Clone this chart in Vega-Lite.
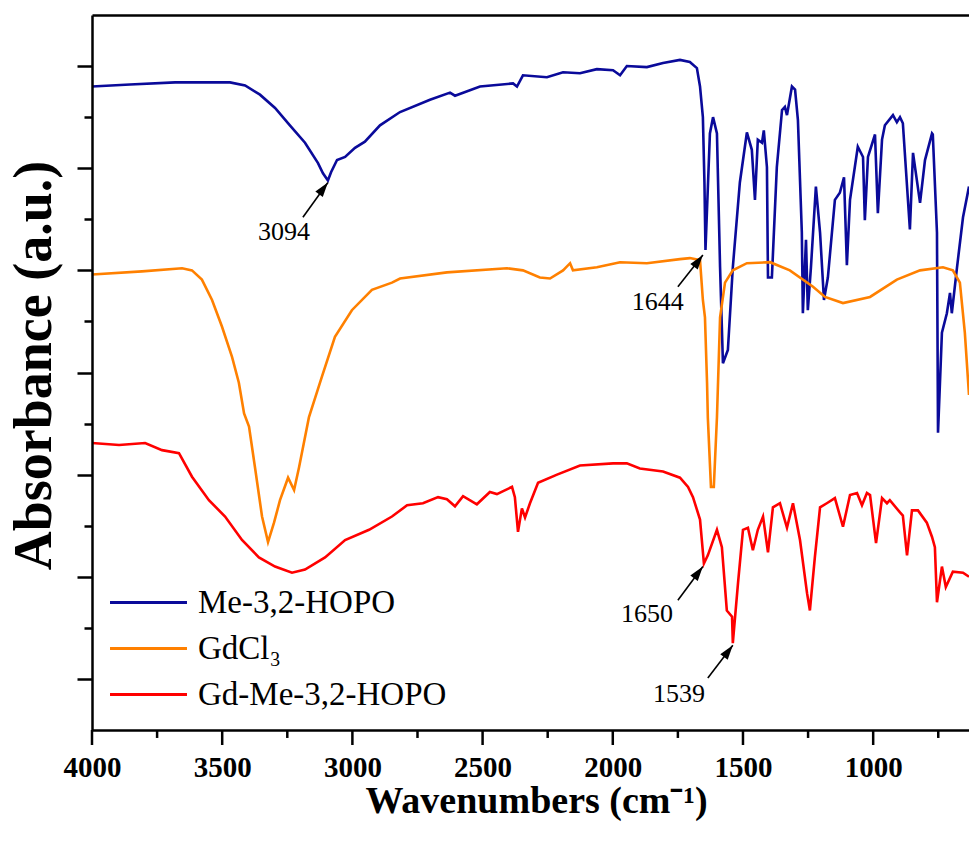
{
  "$schema": "https://vega.github.io/schema/vega-lite/v6.json",
  "width": 877,
  "height": 715,
  "autosize": {"type": "none"},
  "padding": {"left": 92, "top": 15, "right": 0, "bottom": 121},
  "background": "white",
  "config": {"view": {"stroke": null, "fill": null}, "font": "Liberation Serif"},
  "datasets": {
    "spectra": [
      {"s":"Me-3,2-HOPO","wn":4000,"a":6.30},{"s":"Me-3,2-HOPO","wn":3854,"a":6.32},{"s":"Me-3,2-HOPO","wn":3681,"a":6.34},{"s":"Me-3,2-HOPO","wn":3470,"a":6.34},{"s":"Me-3,2-HOPO","wn":3412,"a":6.31},{"s":"Me-3,2-HOPO","wn":3355,"a":6.22},{"s":"Me-3,2-HOPO","wn":3297,"a":6.09},{"s":"Me-3,2-HOPO","wn":3240,"a":5.92},{"s":"Me-3,2-HOPO","wn":3182,"a":5.75},{"s":"Me-3,2-HOPO","wn":3132,"a":5.55},{"s":"Me-3,2-HOPO","wn":3113,"a":5.45},{"s":"Me-3,2-HOPO","wn":3094,"a":5.38},{"s":"Me-3,2-HOPO","wn":3082,"a":5.46},{"s":"Me-3,2-HOPO","wn":3059,"a":5.58},{"s":"Me-3,2-HOPO","wn":3028,"a":5.61},{"s":"Me-3,2-HOPO","wn":2990,"a":5.70},{"s":"Me-3,2-HOPO","wn":2952,"a":5.76},{"s":"Me-3,2-HOPO","wn":2894,"a":5.92},{"s":"Me-3,2-HOPO","wn":2817,"a":6.05},{"s":"Me-3,2-HOPO","wn":2702,"a":6.17},{"s":"Me-3,2-HOPO","wn":2625,"a":6.24},{"s":"Me-3,2-HOPO","wn":2606,"a":6.21},{"s":"Me-3,2-HOPO","wn":2510,"a":6.30},{"s":"Me-3,2-HOPO","wn":2383,"a":6.33},{"s":"Me-3,2-HOPO","wn":2368,"a":6.30},{"s":"Me-3,2-HOPO","wn":2345,"a":6.41},{"s":"Me-3,2-HOPO","wn":2253,"a":6.39},{"s":"Me-3,2-HOPO","wn":2191,"a":6.44},{"s":"Me-3,2-HOPO","wn":2126,"a":6.43},{"s":"Me-3,2-HOPO","wn":2061,"a":6.47},{"s":"Me-3,2-HOPO","wn":1999,"a":6.46},{"s":"Me-3,2-HOPO","wn":1972,"a":6.41},{"s":"Me-3,2-HOPO","wn":1946,"a":6.50},{"s":"Me-3,2-HOPO","wn":1869,"a":6.49},{"s":"Me-3,2-HOPO","wn":1807,"a":6.53},{"s":"Me-3,2-HOPO","wn":1742,"a":6.56},{"s":"Me-3,2-HOPO","wn":1704,"a":6.54},{"s":"Me-3,2-HOPO","wn":1677,"a":6.48},{"s":"Me-3,2-HOPO","wn":1665,"a":6.30},{"s":"Me-3,2-HOPO","wn":1654,"a":6.00},{"s":"Me-3,2-HOPO","wn":1648,"a":5.36},{"s":"Me-3,2-HOPO","wn":1644,"a":4.70},{"s":"Me-3,2-HOPO","wn":1627,"a":5.84},{"s":"Me-3,2-HOPO","wn":1615,"a":6.00},{"s":"Me-3,2-HOPO","wn":1600,"a":5.84},{"s":"Me-3,2-HOPO","wn":1588,"a":4.53},{"s":"Me-3,2-HOPO","wn":1577,"a":3.59},{"s":"Me-3,2-HOPO","wn":1558,"a":3.72},{"s":"Me-3,2-HOPO","wn":1539,"a":4.53},{"s":"Me-3,2-HOPO","wn":1512,"a":5.36},{"s":"Me-3,2-HOPO","wn":1485,"a":5.85},{"s":"Me-3,2-HOPO","wn":1466,"a":5.68},{"s":"Me-3,2-HOPO","wn":1454,"a":5.19},{"s":"Me-3,2-HOPO","wn":1443,"a":5.78},{"s":"Me-3,2-HOPO","wn":1427,"a":5.75},{"s":"Me-3,2-HOPO","wn":1420,"a":5.87},{"s":"Me-3,2-HOPO","wn":1408,"a":5.51},{"s":"Me-3,2-HOPO","wn":1404,"a":4.43},{"s":"Me-3,2-HOPO","wn":1389,"a":4.43},{"s":"Me-3,2-HOPO","wn":1370,"a":5.51},{"s":"Me-3,2-HOPO","wn":1350,"a":6.07},{"s":"Me-3,2-HOPO","wn":1339,"a":6.10},{"s":"Me-3,2-HOPO","wn":1331,"a":6.02},{"s":"Me-3,2-HOPO","wn":1312,"a":6.30},{"s":"Me-3,2-HOPO","wn":1300,"a":6.27},{"s":"Me-3,2-HOPO","wn":1289,"a":5.97},{"s":"Me-3,2-HOPO","wn":1274,"a":4.87},{"s":"Me-3,2-HOPO","wn":1270,"a":4.08},{"s":"Me-3,2-HOPO","wn":1258,"a":4.80},{"s":"Me-3,2-HOPO","wn":1251,"a":4.11},{"s":"Me-3,2-HOPO","wn":1239,"a":4.53},{"s":"Me-3,2-HOPO","wn":1220,"a":5.32},{"s":"Me-3,2-HOPO","wn":1204,"a":4.87},{"s":"Me-3,2-HOPO","wn":1189,"a":4.21},{"s":"Me-3,2-HOPO","wn":1174,"a":4.43},{"s":"Me-3,2-HOPO","wn":1147,"a":5.19},{"s":"Me-3,2-HOPO","wn":1128,"a":5.26},{"s":"Me-3,2-HOPO","wn":1112,"a":5.41},{"s":"Me-3,2-HOPO","wn":1101,"a":4.55},{"s":"Me-3,2-HOPO","wn":1089,"a":5.19},{"s":"Me-3,2-HOPO","wn":1059,"a":5.71},{"s":"Me-3,2-HOPO","wn":1039,"a":5.61},{"s":"Me-3,2-HOPO","wn":1032,"a":4.99},{"s":"Me-3,2-HOPO","wn":1020,"a":5.61},{"s":"Me-3,2-HOPO","wn":993,"a":5.83},{"s":"Me-3,2-HOPO","wn":982,"a":5.06},{"s":"Me-3,2-HOPO","wn":966,"a":5.78},{"s":"Me-3,2-HOPO","wn":955,"a":5.92},{"s":"Me-3,2-HOPO","wn":924,"a":6.02},{"s":"Me-3,2-HOPO","wn":909,"a":5.95},{"s":"Me-3,2-HOPO","wn":897,"a":6.00},{"s":"Me-3,2-HOPO","wn":886,"a":5.94},{"s":"Me-3,2-HOPO","wn":859,"a":4.90},{"s":"Me-3,2-HOPO","wn":847,"a":5.65},{"s":"Me-3,2-HOPO","wn":820,"a":5.16},{"s":"Me-3,2-HOPO","wn":801,"a":5.58},{"s":"Me-3,2-HOPO","wn":774,"a":5.84},{"s":"Me-3,2-HOPO","wn":771,"a":5.83},{"s":"Me-3,2-HOPO","wn":755,"a":4.87},{"s":"Me-3,2-HOPO","wn":751,"a":2.91},{"s":"Me-3,2-HOPO","wn":736,"a":3.89},{"s":"Me-3,2-HOPO","wn":717,"a":4.08},{"s":"Me-3,2-HOPO","wn":705,"a":4.28},{"s":"Me-3,2-HOPO","wn":698,"a":4.08},{"s":"Me-3,2-HOPO","wn":678,"a":4.53},{"s":"Me-3,2-HOPO","wn":655,"a":5.02},{"s":"Me-3,2-HOPO","wn":632,"a":5.32},
      {"s":"GdCl₃","wn":4000,"a":4.46},{"s":"GdCl₃","wn":3808,"a":4.49},{"s":"GdCl₃","wn":3654,"a":4.52},{"s":"GdCl₃","wn":3616,"a":4.50},{"s":"GdCl₃","wn":3578,"a":4.41},{"s":"GdCl₃","wn":3539,"a":4.21},{"s":"GdCl₃","wn":3501,"a":3.95},{"s":"GdCl₃","wn":3462,"a":3.65},{"s":"GdCl₃","wn":3436,"a":3.40},{"s":"GdCl₃","wn":3416,"a":3.10},{"s":"GdCl₃","wn":3397,"a":2.97},{"s":"GdCl₃","wn":3374,"a":2.57},{"s":"GdCl₃","wn":3347,"a":2.09},{"s":"GdCl₃","wn":3324,"a":1.84},{"s":"GdCl₃","wn":3301,"a":2.03},{"s":"GdCl₃","wn":3278,"a":2.25},{"s":"GdCl₃","wn":3247,"a":2.47},{"s":"GdCl₃","wn":3224,"a":2.35},{"s":"GdCl₃","wn":3205,"a":2.57},{"s":"GdCl₃","wn":3167,"a":3.06},{"s":"GdCl₃","wn":3117,"a":3.46},{"s":"GdCl₃","wn":3067,"a":3.85},{"s":"GdCl₃","wn":3002,"a":4.11},{"s":"GdCl₃","wn":2925,"a":4.31},{"s":"GdCl₃","wn":2848,"a":4.38},{"s":"GdCl₃","wn":2817,"a":4.42},{"s":"GdCl₃","wn":2637,"a":4.48},{"s":"GdCl₃","wn":2406,"a":4.52},{"s":"GdCl₃","wn":2345,"a":4.50},{"s":"GdCl₃","wn":2280,"a":4.43},{"s":"GdCl₃","wn":2241,"a":4.42},{"s":"GdCl₃","wn":2191,"a":4.50},{"s":"GdCl₃","wn":2164,"a":4.57},{"s":"GdCl₃","wn":2153,"a":4.50},{"s":"GdCl₃","wn":2061,"a":4.53},{"s":"GdCl₃","wn":1972,"a":4.58},{"s":"GdCl₃","wn":1869,"a":4.57},{"s":"GdCl₃","wn":1742,"a":4.61},{"s":"GdCl₃","wn":1704,"a":4.62},{"s":"GdCl₃","wn":1665,"a":4.60},{"s":"GdCl₃","wn":1654,"a":4.21},{"s":"GdCl₃","wn":1646,"a":4.04},{"s":"GdCl₃","wn":1638,"a":3.40},{"s":"GdCl₃","wn":1635,"a":3.06},{"s":"GdCl₃","wn":1623,"a":2.38},{"s":"GdCl₃","wn":1612,"a":2.38},{"s":"GdCl₃","wn":1600,"a":3.06},{"s":"GdCl₃","wn":1588,"a":4.04},{"s":"GdCl₃","wn":1569,"a":4.38},{"s":"GdCl₃","wn":1539,"a":4.50},{"s":"GdCl₃","wn":1485,"a":4.57},{"s":"GdCl₃","wn":1396,"a":4.58},{"s":"GdCl₃","wn":1320,"a":4.50},{"s":"GdCl₃","wn":1231,"a":4.34},{"s":"GdCl₃","wn":1185,"a":4.24},{"s":"GdCl₃","wn":1116,"a":4.18},{"s":"GdCl₃","wn":1012,"a":4.24},{"s":"GdCl₃","wn":909,"a":4.41},{"s":"GdCl₃","wn":820,"a":4.50},{"s":"GdCl₃","wn":732,"a":4.53},{"s":"GdCl₃","wn":694,"a":4.50},{"s":"GdCl₃","wn":667,"a":4.38},{"s":"GdCl₃","wn":648,"a":3.89},{"s":"GdCl₃","wn":632,"a":3.28},
      {"s":"Gd-Me-3,2-HOPO","wn":4000,"a":2.81},{"s":"Gd-Me-3,2-HOPO","wn":3896,"a":2.79},{"s":"Gd-Me-3,2-HOPO","wn":3796,"a":2.81},{"s":"Gd-Me-3,2-HOPO","wn":3731,"a":2.74},{"s":"Gd-Me-3,2-HOPO","wn":3666,"a":2.71},{"s":"Gd-Me-3,2-HOPO","wn":3616,"a":2.48},{"s":"Gd-Me-3,2-HOPO","wn":3551,"a":2.25},{"s":"Gd-Me-3,2-HOPO","wn":3489,"a":2.09},{"s":"Gd-Me-3,2-HOPO","wn":3424,"a":1.86},{"s":"Gd-Me-3,2-HOPO","wn":3359,"a":1.69},{"s":"Gd-Me-3,2-HOPO","wn":3297,"a":1.60},{"s":"Gd-Me-3,2-HOPO","wn":3232,"a":1.54},{"s":"Gd-Me-3,2-HOPO","wn":3182,"a":1.57},{"s":"Gd-Me-3,2-HOPO","wn":3105,"a":1.69},{"s":"Gd-Me-3,2-HOPO","wn":3028,"a":1.86},{"s":"Gd-Me-3,2-HOPO","wn":2936,"a":1.96},{"s":"Gd-Me-3,2-HOPO","wn":2848,"a":2.09},{"s":"Gd-Me-3,2-HOPO","wn":2790,"a":2.20},{"s":"Gd-Me-3,2-HOPO","wn":2729,"a":2.22},{"s":"Gd-Me-3,2-HOPO","wn":2671,"a":2.28},{"s":"Gd-Me-3,2-HOPO","wn":2637,"a":2.26},{"s":"Gd-Me-3,2-HOPO","wn":2606,"a":2.19},{"s":"Gd-Me-3,2-HOPO","wn":2575,"a":2.29},{"s":"Gd-Me-3,2-HOPO","wn":2522,"a":2.21},{"s":"Gd-Me-3,2-HOPO","wn":2472,"a":2.33},{"s":"Gd-Me-3,2-HOPO","wn":2445,"a":2.31},{"s":"Gd-Me-3,2-HOPO","wn":2387,"a":2.38},{"s":"Gd-Me-3,2-HOPO","wn":2376,"a":2.28},{"s":"Gd-Me-3,2-HOPO","wn":2364,"a":1.94},{"s":"Gd-Me-3,2-HOPO","wn":2349,"a":2.17},{"s":"Gd-Me-3,2-HOPO","wn":2337,"a":2.08},{"s":"Gd-Me-3,2-HOPO","wn":2318,"a":2.22},{"s":"Gd-Me-3,2-HOPO","wn":2287,"a":2.42},{"s":"Gd-Me-3,2-HOPO","wn":2214,"a":2.50},{"s":"Gd-Me-3,2-HOPO","wn":2126,"a":2.59},{"s":"Gd-Me-3,2-HOPO","wn":1999,"a":2.61},{"s":"Gd-Me-3,2-HOPO","wn":1946,"a":2.61},{"s":"Gd-Me-3,2-HOPO","wn":1896,"a":2.56},{"s":"Gd-Me-3,2-HOPO","wn":1807,"a":2.53},{"s":"Gd-Me-3,2-HOPO","wn":1742,"a":2.47},{"s":"Gd-Me-3,2-HOPO","wn":1711,"a":2.38},{"s":"Gd-Me-3,2-HOPO","wn":1692,"a":2.28},{"s":"Gd-Me-3,2-HOPO","wn":1665,"a":2.06},{"s":"Gd-Me-3,2-HOPO","wn":1650,"a":1.63},{"s":"Gd-Me-3,2-HOPO","wn":1635,"a":1.71},{"s":"Gd-Me-3,2-HOPO","wn":1600,"a":1.96},{"s":"Gd-Me-3,2-HOPO","wn":1581,"a":1.79},{"s":"Gd-Me-3,2-HOPO","wn":1562,"a":1.17},{"s":"Gd-Me-3,2-HOPO","wn":1542,"a":1.11},{"s":"Gd-Me-3,2-HOPO","wn":1539,"a":0.85},{"s":"Gd-Me-3,2-HOPO","wn":1519,"a":1.44},{"s":"Gd-Me-3,2-HOPO","wn":1500,"a":1.96},{"s":"Gd-Me-3,2-HOPO","wn":1481,"a":1.98},{"s":"Gd-Me-3,2-HOPO","wn":1462,"a":1.76},{"s":"Gd-Me-3,2-HOPO","wn":1443,"a":1.96},{"s":"Gd-Me-3,2-HOPO","wn":1423,"a":2.09},{"s":"Gd-Me-3,2-HOPO","wn":1404,"a":1.74},{"s":"Gd-Me-3,2-HOPO","wn":1385,"a":2.18},{"s":"Gd-Me-3,2-HOPO","wn":1358,"a":2.22},{"s":"Gd-Me-3,2-HOPO","wn":1331,"a":1.98},{"s":"Gd-Me-3,2-HOPO","wn":1308,"a":2.22},{"s":"Gd-Me-3,2-HOPO","wn":1281,"a":1.86},{"s":"Gd-Me-3,2-HOPO","wn":1254,"a":1.34},{"s":"Gd-Me-3,2-HOPO","wn":1243,"a":1.17},{"s":"Gd-Me-3,2-HOPO","wn":1224,"a":1.69},{"s":"Gd-Me-3,2-HOPO","wn":1204,"a":2.18},{"s":"Gd-Me-3,2-HOPO","wn":1178,"a":2.22},{"s":"Gd-Me-3,2-HOPO","wn":1147,"a":2.27},{"s":"Gd-Me-3,2-HOPO","wn":1116,"a":1.99},{"s":"Gd-Me-3,2-HOPO","wn":1089,"a":2.30},{"s":"Gd-Me-3,2-HOPO","wn":1062,"a":2.32},{"s":"Gd-Me-3,2-HOPO","wn":1043,"a":2.20},{"s":"Gd-Me-3,2-HOPO","wn":1024,"a":2.32},{"s":"Gd-Me-3,2-HOPO","wn":1012,"a":2.30},{"s":"Gd-Me-3,2-HOPO","wn":989,"a":1.83},{"s":"Gd-Me-3,2-HOPO","wn":966,"a":2.27},{"s":"Gd-Me-3,2-HOPO","wn":947,"a":2.22},{"s":"Gd-Me-3,2-HOPO","wn":936,"a":2.25},{"s":"Gd-Me-3,2-HOPO","wn":897,"a":2.13},{"s":"Gd-Me-3,2-HOPO","wn":886,"a":2.10},{"s":"Gd-Me-3,2-HOPO","wn":870,"a":1.71},{"s":"Gd-Me-3,2-HOPO","wn":851,"a":2.15},{"s":"Gd-Me-3,2-HOPO","wn":828,"a":2.15},{"s":"Gd-Me-3,2-HOPO","wn":794,"a":2.03},{"s":"Gd-Me-3,2-HOPO","wn":774,"a":1.89},{"s":"Gd-Me-3,2-HOPO","wn":763,"a":1.79},{"s":"Gd-Me-3,2-HOPO","wn":755,"a":1.25},{"s":"Gd-Me-3,2-HOPO","wn":736,"a":1.60},{"s":"Gd-Me-3,2-HOPO","wn":721,"a":1.40},{"s":"Gd-Me-3,2-HOPO","wn":694,"a":1.55},{"s":"Gd-Me-3,2-HOPO","wn":655,"a":1.54},{"s":"Gd-Me-3,2-HOPO","wn":632,"a":1.50}
    ],
    "arrows": [
      {"lab":"3094","x1":3190,"y1":5.02,"x2":3094,"y2":5.36,"tx":3263,"ty":4.80},
      {"lab":"1644","x1":1750,"y1":4.34,"x2":1654,"y2":4.65,"tx":1827,"ty":4.11},
      {"lab":"1650","x1":1750,"y1":1.27,"x2":1654,"y2":1.60,"tx":1869,"ty":1.06},
      {"lab":"1539","x1":1635,"y1":0.51,"x2":1539,"y2":0.83,"tx":1746,"ty":0.27}
    ],
    "majorTicks": [{"wn":4000},{"wn":3500},{"wn":3000},{"wn":2500},{"wn":2000},{"wn":1500},{"wn":1000}],
    "minorTicks": [{"wn":3750},{"wn":3250},{"wn":2750},{"wn":2250},{"wn":1750},{"wn":1250},{"wn":750}]
  },
  "layer": [
    {
      "data": {"name": "majorTicks"},
      "mark": {"type": "rule", "strokeWidth": 2.5, "color": "black", "clip": false},
      "encoding": {
        "x": {"field": "wn", "type": "quantitative", "scale": {"domain": [632, 4000], "reverse": true, "nice": false, "zero": false},
              "axis": {
                "orient": "bottom",
                "title": "Wavenumbers (cm⁻¹)",
                "titleFont": "Liberation Serif", "titleFontSize": 38, "titleFontWeight": "bold", "titleColor": "black",
                "titleX": 444, "titleY": 82, "titleBaseline": "alphabetic", "titleAlign": "center",
                "values": [1000, 1500, 2000, 2500, 3000, 3500, 4000],
                "format": "d",
                "labelFont": "Liberation Serif", "labelFontSize": 29, "labelFontWeight": "bold", "labelColor": "black",
                "labelPadding": 23, "labelOverlap": false, "labelFlush": false,
                "ticks": false,
                "domainColor": "black", "domainWidth": 2.5, "grid": false, "zindex": 1
              }},
        "y": {"datum": 0, "type": "quantitative", "scale": {"domain": [0, 7], "nice": false, "zero": false},
              "axis": {
                "title": "Absorbance (a.u.)",
                "titleFont": "Liberation Serif", "titleFontSize": 54, "titleFontWeight": "bold", "titleColor": "black",
                "titleX": -42, "titleY": 350, "titleAngle": 270, "titleBaseline": "alphabetic", "titleAlign": "center",
                "values": [0.5, 1, 1.5, 2, 2.5, 3, 3.5, 4, 4.5, 5, 5.5, 6, 6.5],
                "labels": false,
                "tickSize": {"condition": {"test": "datum.value % 1 === 0.5", "value": 15}, "value": 8},
                "tickWidth": 2.5, "tickColor": "black",
                "domainColor": "black", "domainWidth": 2.5, "grid": false, "zindex": 1
              }},
        "y2": {"datum": -0.147}
      }
    },
    {
      "data": {"name": "minorTicks"},
      "mark": {"type": "rule", "strokeWidth": 2.5, "color": "black", "clip": false},
      "encoding": {
        "x": {"field": "wn", "type": "quantitative", "axis": null},
        "y": {"datum": 0, "type": "quantitative", "axis": null},
        "y2": {"datum": -0.078}
      }
    },
    {
      "data": {"name": "spectra"},
      "mark": {"type": "line", "strokeWidth": 2.6, "clip": true},
      "encoding": {
        "x": {"field": "wn", "type": "quantitative", "axis": null},
        "y": {"field": "a", "type": "quantitative", "axis": null},
        "color": {
          "field": "s", "type": "nominal",
          "scale": {"domain": ["Me-3,2-HOPO", "GdCl₃", "Gd-Me-3,2-HOPO"], "range": ["#0a0a9a", "#ff8000", "#ff0000"]},
          "legend": {
            "title": null, "orient": "none", "legendX": 40, "legendY": 571, "padding": 0,
            "symbolType": "M-5,0L5,0", "symbolSize": 237, "symbolStrokeWidth": 3,
            "labelFont": "Liberation Serif", "labelFontSize": 33, "labelColor": "black",
            "labelOffset": 33, "rowPadding": 12, "labelLimit": 400
          }
        }
      }
    },
    {
      "data": {"name": "arrows"},
      "mark": {"type": "rule", "strokeWidth": 1.6, "color": "black"},
      "encoding": {
        "x": {"field": "x1", "type": "quantitative",
              "axis": {"orient": "top", "values": [], "labels": false, "title": null, "domain": true, "domainColor": "black", "domainWidth": 2.5, "grid": false}},
        "y": {"field": "y1", "type": "quantitative", "axis": null},
        "x2": {"field": "x2"},
        "y2": {"field": "y2"}
      }
    },
    {
      "data": {"name": "arrows"},
      "mark": {"type": "point", "shape": "M0,0L-0.6,1.9L0.6,1.9Z", "size": 240, "angle": 37, "filled": true, "color": "black", "opacity": 1},
      "encoding": {
        "x": {"field": "x2", "type": "quantitative", "axis": null},
        "y": {"field": "y2", "type": "quantitative", "axis": null}
      }
    },
    {
      "data": {"name": "arrows"},
      "mark": {"type": "text", "font": "Liberation Serif", "fontSize": 26, "color": "black", "align": "center", "baseline": "alphabetic"},
      "encoding": {
        "x": {"field": "tx", "type": "quantitative", "axis": null},
        "y": {"field": "ty", "type": "quantitative", "axis": null},
        "text": {"field": "lab"}
      }
    }
  ],
  "resolve": {"axis": {"x": "independent", "y": "independent"}}
}
